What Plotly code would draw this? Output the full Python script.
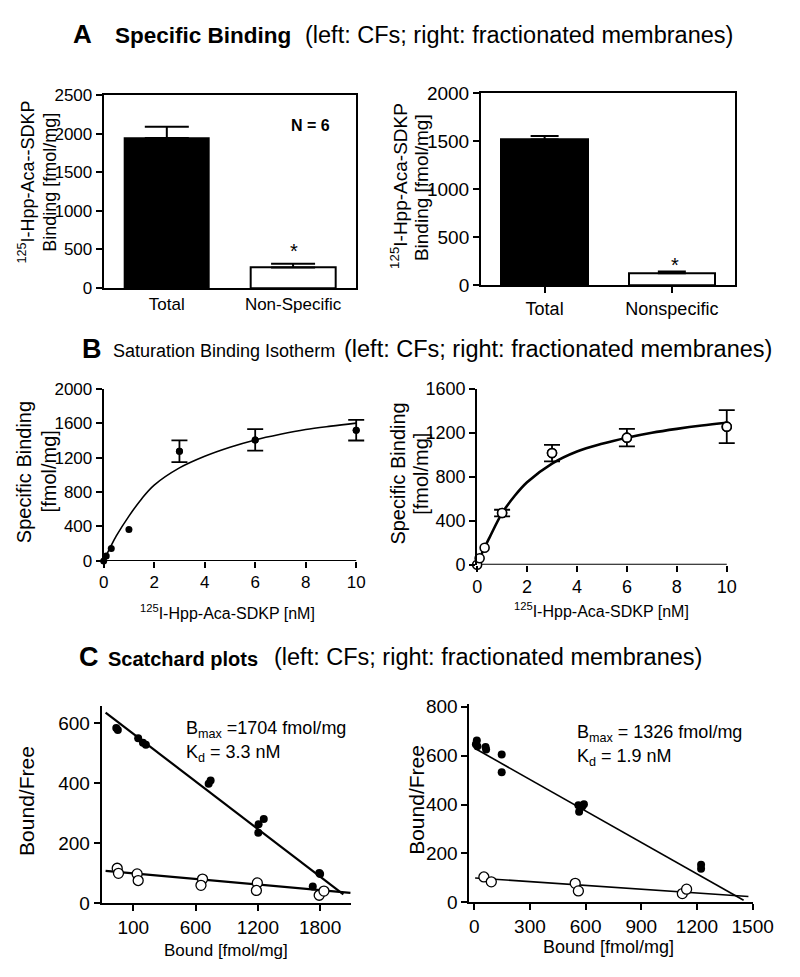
import plotly.graph_objects as go

W, H = 800, 977
FONT = "Liberation Sans, Arial, Helvetica, sans-serif"

# ---------------- data ----------------
# Panel A (bars)
a_left_cats = ["Total", "Non-Specific"]
a_left_vals = [1945, 265]
a_left_err = [145, 47]
a_right_cats = ["Total", "Nonspecific"]
a_right_vals = [1516, 123]
a_right_err = [38, 18]
bar_colors = ["black", "white"]

# Panel B (saturation)
conc = [0, 0.1, 0.3, 1, 3, 6, 10]
b_left_mean = [0, 57, 145, 365, 1273, 1405, 1518]
b_left_err = [None, None, None, None, 127, 125, 120]
b_right_mean = [0, 60, 155, 470, 1015, 1155, 1255]
b_right_err = [None, None, None, 30, 75, 80, 150]
fit_x = [0, 0.25, 0.5, 1, 1.5, 2, 3, 4, 5, 6, 7, 8, 9, 10]
b_left_fit = [0, 150, 290, 520, 720, 880, 1080, 1215, 1320, 1405, 1470, 1525, 1565, 1600]
b_right_fit = [0, 135, 250, 470, 625, 750, 920, 1030, 1100, 1155, 1200, 1235, 1265, 1290]
b_xticks = [0, 2, 4, 6, 8, 10]

# Panel C (Scatchard)
c_left_filled_x = [-149, -164, 47, 93, 121, 726, 745, 1207, 1204, 1257, 1729, 1800, 1792]
c_left_filled_y = [577, 584, 550, 535, 528, 398, 409, 263, 235, 281, 56, 98, 101]
c_left_open_x = [-155, -143, 37, 47, 667, 652, 1195, 1186, 1791, 1837]
c_left_open_y = [117, 100, 98, 76, 81, 60, 68, 43, 27, 41]
c_left_fline_x = [-267, 2024]
c_left_fline_y = [635, 30]
c_left_oline_x = [-267, 2092]
c_left_oline_y = [108, 35]
c_left_xticks = [0, 600, 1200, 1800]
c_left_xlabels = ["100", "600", "1200", "1800"]

c_right_filled_x = [14, 9, 17, 61, 64, 148, 148, 561, 565, 582, 591, 1222, 1222]
c_right_filled_y = [662, 646, 638, 635, 625, 605, 532, 397, 371, 392, 401, 154, 138]
c_right_open_x = [52, 92, 544, 561, 1121, 1144]
c_right_open_y = [104, 84, 78, 47, 36, 54]
c_right_fline_x = [5, 1451]
c_right_fline_y = [629, 9]
c_right_oline_x = [5, 1477]
c_right_oline_y = [100, 24]


def px(x):
    return x / W


def py(y):
    return 1 - y / H


def with_err(xs, ys, errs):
    idx = [i for i, e in enumerate(errs) if e is not None]
    return [xs[i] for i in idx], [ys[i] for i in idx], [errs[i] for i in idx]


fig = go.Figure()

# ---------- A left ----------
fig.add_trace(go.Bar(x=a_left_cats, y=a_left_vals, width=0.67,
                     marker=dict(color=bar_colors, line=dict(color="black", width=2)),
                     error_y=dict(type="data", array=a_left_err, arrayminus=[0, 0], symmetric=False,
                                  color="black", thickness=2, width=22),
                     xaxis="x", yaxis="y", showlegend=False))
# ---------- A right ----------
fig.add_trace(go.Bar(x=a_right_cats, y=a_right_vals, width=0.68,
                     marker=dict(color=bar_colors, line=dict(color="black", width=2)),
                     error_y=dict(type="data", array=a_right_err, arrayminus=[0, 0], symmetric=False,
                                  color="black", thickness=2, width=14),
                     xaxis="x2", yaxis="y2", showlegend=False))

# ---------- B left ----------
fig.add_trace(go.Scatter(x=fit_x, y=b_left_fit, mode="lines", line=dict(color="black", width=1.6, shape="spline"),
                         xaxis="x3", yaxis="y3", showlegend=False, cliponaxis=False))
ex, ey, ee = with_err(conc, b_left_mean, b_left_err)
fig.add_trace(go.Scatter(x=ex, y=ey, mode="markers", marker=dict(color="black", size=7),
                         error_y=dict(type="data", array=ee, color="black", thickness=1.8, width=8),
                         xaxis="x3", yaxis="y3", showlegend=False, cliponaxis=False))
fig.add_trace(go.Scatter(x=conc, y=b_left_mean, mode="markers", marker=dict(color="black", size=7),
                         xaxis="x3", yaxis="y3", showlegend=False, cliponaxis=False))
# ---------- B right ----------
fig.add_trace(go.Scatter(x=fit_x, y=b_right_fit, mode="lines", line=dict(color="black", width=2.6, shape="spline"),
                         xaxis="x4", yaxis="y4", showlegend=False, cliponaxis=False))
ex, ey, ee = with_err(conc, b_right_mean, b_right_err)
fig.add_trace(go.Scatter(x=ex, y=ey, mode="markers", marker=dict(color="white", size=9, line=dict(color="black", width=1.6)),
                         error_y=dict(type="data", array=ee, color="black", thickness=1.8, width=8),
                         xaxis="x4", yaxis="y4", showlegend=False, cliponaxis=False))
fig.add_trace(go.Scatter(x=conc, y=b_right_mean, mode="markers",
                         marker=dict(color="white", size=9, line=dict(color="black", width=1.6)),
                         xaxis="x4", yaxis="y4", showlegend=False, cliponaxis=False))

# ---------- C left ----------
fig.add_trace(go.Scatter(x=c_left_fline_x, y=c_left_fline_y, mode="lines", line=dict(color="black", width=2.2),
                         xaxis="x5", yaxis="y5", showlegend=False, cliponaxis=False))
fig.add_trace(go.Scatter(x=c_left_oline_x, y=c_left_oline_y, mode="lines", line=dict(color="black", width=2.2),
                         xaxis="x5", yaxis="y5", showlegend=False, cliponaxis=False))
fig.add_trace(go.Scatter(x=c_left_filled_x, y=c_left_filled_y, mode="markers",
                         marker=dict(color="black", size=8),
                         xaxis="x5", yaxis="y5", showlegend=False, cliponaxis=False))
fig.add_trace(go.Scatter(x=c_left_open_x, y=c_left_open_y, mode="markers",
                         marker=dict(color="white", size=10, line=dict(color="black", width=1.3)),
                         xaxis="x5", yaxis="y5", showlegend=False, cliponaxis=False))
# ---------- C right ----------
fig.add_trace(go.Scatter(x=c_right_fline_x, y=c_right_fline_y, mode="lines", line=dict(color="black", width=1.6),
                         xaxis="x6", yaxis="y6", showlegend=False, cliponaxis=False))
fig.add_trace(go.Scatter(x=c_right_oline_x, y=c_right_oline_y, mode="lines", line=dict(color="black", width=1.6),
                         xaxis="x6", yaxis="y6", showlegend=False, cliponaxis=False))
fig.add_trace(go.Scatter(x=c_right_filled_x, y=c_right_filled_y, mode="markers",
                         marker=dict(color="black", size=8),
                         xaxis="x6", yaxis="y6", showlegend=False, cliponaxis=False))
fig.add_trace(go.Scatter(x=c_right_open_x, y=c_right_open_y, mode="markers",
                         marker=dict(color="white", size=10, line=dict(color="black", width=1.3)),
                         xaxis="x6", yaxis="y6", showlegend=False, cliponaxis=False))


def axis(dom, anchor, size, **kw):
    d = dict(domain=dom, anchor=anchor, showgrid=False, zeroline=False, showline=True,
             linecolor="black", linewidth=2, ticks="outside", ticklen=6, tickwidth=2,
             tickcolor="black", tickfont=dict(family=FONT, size=size, color="black"))
    d.update(kw)
    return d


# B panels: x-range padded so end-of-range error caps are not clipped; the x axis
# line is drawn as a shape from the first to the last tick instead.
B_PAD = 0.35

layout = dict(
    width=W, height=H, autosize=False, margin=dict(l=0, r=0, t=0, b=0),
    paper_bgcolor="white", plot_bgcolor="white", font=dict(family=FONT, color="black", size=16),
    bargap=0,
    xaxis=axis([px(102), px(363)], "y", 17, type="category", range=[-0.5, 1.5], ticks="", mirror=True),
    yaxis=axis([py(284), py(87)], "x", 17, range=[0, 2500], tickvals=[0, 500, 1000, 1500, 2000, 2500], mirror=True),
    xaxis2=axis([px(492), px(755)], "y2", 18, type="category", range=[-0.5, 1.5], mirror=True),
    yaxis2=axis([py(281), py(85)], "x2", 19, range=[0, 2000], tickvals=[0, 500, 1000, 1500, 2000], mirror=True),
    xaxis3=axis([px(102), px(363 + 26.1 * B_PAD)], "y3", 17, range=[0, 10 + B_PAD], tickvals=b_xticks,
                showline=False),
    yaxis3=axis([py(563), py(387)], "x3", 17, range=[0, 2000], tickvals=[0, 400, 800, 1200, 1600, 2000]),
    xaxis4=axis([px(488), px(746 + 25.8 * B_PAD)], "y4", 18, range=[0, 10 + B_PAD], tickvals=b_xticks,
                showline=False),
    yaxis4=axis([py(567), py(387)], "x4", 18, range=[0, 1600], tickvals=[0, 400, 800, 1200, 1600]),
    xaxis5=axis([px(100), px(358)], "y5", 19, range=[-304, 2101], tickvals=c_left_xticks, ticktext=c_left_xlabels),
    yaxis5=axis([py(913), py(711)], "x5", 19, range=[0, 658], tickvals=[0, 200, 400, 600]),
    xaxis6=axis([px(480), px(773)], "y6", 19, range=[-26, 1501], tickvals=[0, 300, 600, 900, 1200, 1500]),
    yaxis6=axis([py(912), py(709)], "x6", 19, range=[0, 812], tickvals=[0, 200, 400, 600, 800]),
    shapes=[
        dict(type="line", xref="x3", yref="y3", x0=b_xticks[0], x1=b_xticks[-1], y0=0, y1=0,
             line=dict(color="black", width=2), layer="below"),
        dict(type="line", xref="x4", yref="y4", x0=b_xticks[0], x1=b_xticks[-1], y0=0, y1=0,
             line=dict(color="black", width=2), layer="below"),
    ],
)

ann = []


def note(x, y, text, size, angle=0, bold=False):
    if bold:
        text = "<b>" + text + "</b>"
    ann.append(dict(x=px(x), y=py(y), xref="paper", yref="paper", text=text, showarrow=False,
                    xanchor="center", yanchor="middle", textangle=angle,
                    font=dict(family=FONT, size=size, color="black")))


# panel titles (centres)
note(80, 25, "A", 26, bold=True)
note(205, 26, "Specific Binding", 22.5, bold=True)
note(531, 26, "(left: CFs; right: fractionated membranes)", 23.5)
note(90, 346, "B", 27, bold=True)
note(226, 348, "Saturation Binding Isotherm", 18)
note(572, 346, "(left: CFs; right: fractionated membranes)", 23.5)
note(87, 661, "C", 27, bold=True)
note(184, 663, "Scatchard plots", 20, bold=True)
note(499, 661, "(left: CFs; right: fractionated membranes)", 23.5)

# Panel A texts
note(316, 118, "N = 6", 16, bold=True)
note(299, 246, "*", 20)
note(692, 261, "*", 20)
note(22, 176, "<sup>125</sup>I-Hpp-Aca--SDKP", 18, angle=-90)
note(47, 176, "Binding [fmol/mg]", 18, angle=-90)
note(407, 180, "<sup>125</sup>I-Hpp-Aca-SDKP", 19, angle=-90)
note(430, 182, "Binding [fmol/mg]", 19, angle=-90)

# Panel B texts
note(20, 472, "Specific Binding", 20, angle=-90)
note(45, 472, "[fmol/mg]", 20, angle=-90)
note(230, 615, "<sup>125</sup>I-Hpp-Aca-SDKP [nM]", 16)
note(406, 474, "Specific Binding", 20, angle=-90)
note(430, 474, "[fmol/mg]", 20, angle=-90)
note(617, 613, "<sup>125</sup>I-Hpp-Aca-SDKP [nM]", 16)

# Panel C texts
note(22, 808, "Bound/Free", 21, angle=-90)
note(228, 961, "Bound [fmol/mg]", 17)
note(270, 735, "B<sub>max</sub> =1704 fmol/mg", 18)
note(236, 760, "K<sub>d</sub> = 3.3 nM", 18)
note(425, 807, "Bound/Free", 21, angle=-90)
note(624, 958, "Bound [fmol/mg]", 18)
note(677, 739, "B<sub>max</sub> = 1326 fmol/mg", 18)
note(640, 764, "K<sub>d</sub> = 1.9 nM", 18)

layout["annotations"] = ann
fig.update_layout(**layout)
fig.write_html("out.html", config={"displayModeBar": False},
               post_script="document.body.style.margin='0';document.body.style.padding='0';"
                           "document.body.style.overflow='hidden';")
